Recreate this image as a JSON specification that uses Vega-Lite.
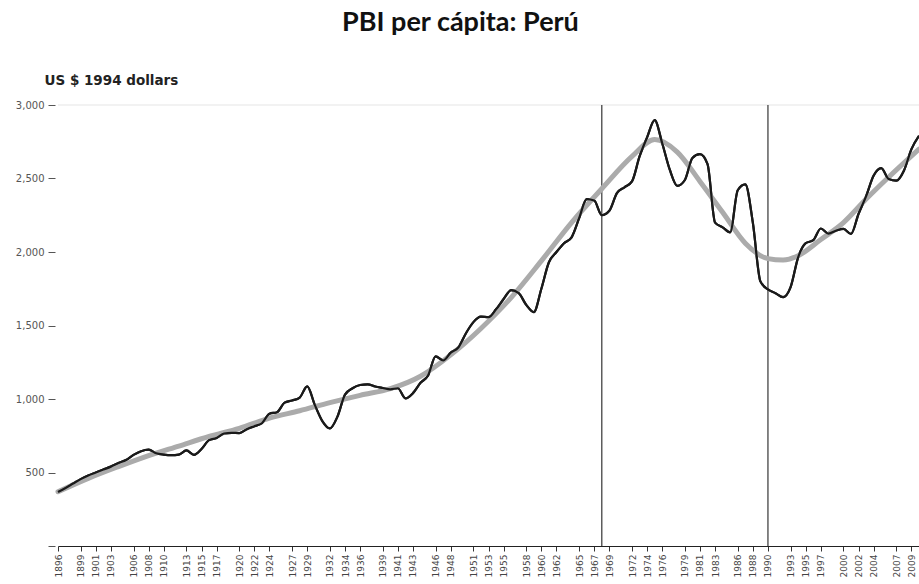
{
  "$schema": "https://vega.github.io/schema/vega-lite/v6.json",
  "autosize": "none",
  "width": 861,
  "height": 441,
  "padding": {"left": 58, "top": 105, "right": 0, "bottom": 38},
  "background": "white",
  "title": {
    "text": "PBI per cápita: Perú",
    "font": "Lato",
    "fontSize": 27,
    "fontWeight": "bold",
    "color": "#111",
    "anchor": "start",
    "frame": "group",
    "dx": 284,
    "offset": 36
  },
  "config": {
    "view": {"stroke": null},
    "axisX": {
      "labelOverlap": false,
      "labelSeparation": 0,
      "labelAngle": -90,
      "labelFont": "DejaVu Sans",
      "labelFontSize": 9,
      "labelColor": "#444",
      "labelPadding": 3,
      "labelFlush": false,
      "domainColor": "#222",
      "domainWidth": 1,
      "tickColor": "#333",
      "tickSize": 5,
      "grid": false
    },
    "axisY": {
      "labelFont": "DejaVu Sans",
      "labelFontSize": 10,
      "labelColor": "#555",
      "labelPadding": 4,
      "domain": false,
      "offset": 3,
      "tickSize": 7,
      "tickColor": "#555",
      "grid": false
    }
  },
  "datasets": {
    "gdp": [
      {"year": 1896, "gdp": 367}, {"year": 1897, "gdp": 395}, {"year": 1898, "gdp": 425}, {"year": 1899, "gdp": 455},
      {"year": 1900, "gdp": 480}, {"year": 1901, "gdp": 500}, {"year": 1902, "gdp": 520}, {"year": 1903, "gdp": 540},
      {"year": 1904, "gdp": 565}, {"year": 1905, "gdp": 585}, {"year": 1906, "gdp": 620}, {"year": 1907, "gdp": 645},
      {"year": 1908, "gdp": 655}, {"year": 1909, "gdp": 631}, {"year": 1910, "gdp": 622}, {"year": 1911, "gdp": 618},
      {"year": 1912, "gdp": 622}, {"year": 1913, "gdp": 650}, {"year": 1914, "gdp": 620}, {"year": 1915, "gdp": 660},
      {"year": 1916, "gdp": 720}, {"year": 1917, "gdp": 735}, {"year": 1918, "gdp": 765}, {"year": 1919, "gdp": 770},
      {"year": 1920, "gdp": 768}, {"year": 1921, "gdp": 795}, {"year": 1922, "gdp": 815}, {"year": 1923, "gdp": 835},
      {"year": 1924, "gdp": 900}, {"year": 1925, "gdp": 910}, {"year": 1926, "gdp": 975}, {"year": 1927, "gdp": 990},
      {"year": 1928, "gdp": 1010}, {"year": 1929, "gdp": 1086}, {"year": 1930, "gdp": 960}, {"year": 1931, "gdp": 850},
      {"year": 1932, "gdp": 800}, {"year": 1933, "gdp": 880}, {"year": 1934, "gdp": 1030}, {"year": 1935, "gdp": 1073},
      {"year": 1936, "gdp": 1095}, {"year": 1937, "gdp": 1100}, {"year": 1938, "gdp": 1085}, {"year": 1939, "gdp": 1075},
      {"year": 1940, "gdp": 1066}, {"year": 1941, "gdp": 1073}, {"year": 1942, "gdp": 1004}, {"year": 1943, "gdp": 1040},
      {"year": 1944, "gdp": 1110}, {"year": 1945, "gdp": 1160}, {"year": 1946, "gdp": 1290}, {"year": 1947, "gdp": 1262},
      {"year": 1948, "gdp": 1315}, {"year": 1949, "gdp": 1350}, {"year": 1950, "gdp": 1446}, {"year": 1951, "gdp": 1523},
      {"year": 1952, "gdp": 1560}, {"year": 1953, "gdp": 1557}, {"year": 1954, "gdp": 1610}, {"year": 1955, "gdp": 1680},
      {"year": 1956, "gdp": 1740}, {"year": 1957, "gdp": 1720}, {"year": 1958, "gdp": 1640}, {"year": 1959, "gdp": 1591},
      {"year": 1960, "gdp": 1750}, {"year": 1961, "gdp": 1930}, {"year": 1962, "gdp": 2000}, {"year": 1963, "gdp": 2060},
      {"year": 1964, "gdp": 2100}, {"year": 1965, "gdp": 2230}, {"year": 1966, "gdp": 2360}, {"year": 1967, "gdp": 2350},
      {"year": 1968, "gdp": 2250}, {"year": 1969, "gdp": 2280}, {"year": 1970, "gdp": 2400}, {"year": 1971, "gdp": 2440},
      {"year": 1972, "gdp": 2480}, {"year": 1973, "gdp": 2650}, {"year": 1974, "gdp": 2780}, {"year": 1975, "gdp": 2897},
      {"year": 1976, "gdp": 2740}, {"year": 1977, "gdp": 2560}, {"year": 1978, "gdp": 2450}, {"year": 1979, "gdp": 2490},
      {"year": 1980, "gdp": 2640}, {"year": 1981, "gdp": 2666}, {"year": 1982, "gdp": 2598}, {"year": 1983, "gdp": 2200},
      {"year": 1984, "gdp": 2168}, {"year": 1985, "gdp": 2134}, {"year": 1986, "gdp": 2420}, {"year": 1987, "gdp": 2460},
      {"year": 1988, "gdp": 2200}, {"year": 1989, "gdp": 1800}, {"year": 1990, "gdp": 1745}, {"year": 1991, "gdp": 1720},
      {"year": 1992, "gdp": 1693}, {"year": 1993, "gdp": 1761}, {"year": 1994, "gdp": 1964}, {"year": 1995, "gdp": 2060},
      {"year": 1996, "gdp": 2080}, {"year": 1997, "gdp": 2160}, {"year": 1998, "gdp": 2125}, {"year": 1999, "gdp": 2145},
      {"year": 2000, "gdp": 2157}, {"year": 2001, "gdp": 2123}, {"year": 2002, "gdp": 2260}, {"year": 2003, "gdp": 2380},
      {"year": 2004, "gdp": 2520}, {"year": 2005, "gdp": 2570}, {"year": 2006, "gdp": 2496}, {"year": 2007, "gdp": 2485},
      {"year": 2008, "gdp": 2553}, {"year": 2009, "gdp": 2700}, {"year": 2010, "gdp": 2790}
    ],
    "trend": [
      {"year": 1896, "trend": 369}, {"year": 1900, "trend": 460}, {"year": 1904, "trend": 540}, {"year": 1908, "trend": 615},
      {"year": 1912, "trend": 680}, {"year": 1916, "trend": 745}, {"year": 1920, "trend": 800}, {"year": 1924, "trend": 870},
      {"year": 1928, "trend": 920}, {"year": 1932, "trend": 975}, {"year": 1936, "trend": 1025}, {"year": 1940, "trend": 1070},
      {"year": 1944, "trend": 1155}, {"year": 1948, "trend": 1300}, {"year": 1952, "trend": 1480}, {"year": 1956, "trend": 1690},
      {"year": 1960, "trend": 1940}, {"year": 1964, "trend": 2200}, {"year": 1968, "trend": 2430}, {"year": 1972, "trend": 2650},
      {"year": 1975, "trend": 2765}, {"year": 1978, "trend": 2680}, {"year": 1981, "trend": 2480}, {"year": 1984, "trend": 2270},
      {"year": 1987, "trend": 2060}, {"year": 1990, "trend": 1955}, {"year": 1992, "trend": 1945}, {"year": 1994, "trend": 1975},
      {"year": 1997, "trend": 2085}, {"year": 2000, "trend": 2200}, {"year": 2003, "trend": 2360}, {"year": 2006, "trend": 2510},
      {"year": 2010, "trend": 2700}
    ],
    "events": [{"year": 1968}, {"year": 1990}],
    "grid": [{"gdp": 3000}]
  },
  "layer": [
    {
      "data": {"name": "gdp"},
      "mark": {"type": "line", "color": "#1a1a1a", "strokeWidth": 2.2, "interpolate": "monotone"},
      "encoding": {
        "x": {
          "field": "year", "type": "quantitative",
          "scale": {"domain": [1896, 2010], "nice": false, "zero": false},
          "axis": {
            "title": null,
            "values": [1896, 1899, 1901, 1903, 1906, 1908, 1910, 1913, 1915, 1917, 1920, 1922, 1924, 1927, 1929, 1932, 1934, 1936, 1939, 1941, 1943, 1946, 1948, 1951, 1953, 1955, 1958, 1960, 1962, 1965, 1967, 1969, 1972, 1974, 1976, 1979, 1981, 1983, 1986, 1988, 1990, 1993, 1995, 1997, 2000, 2002, 2004, 2007, 2009],
            "tickCount": 200,
            "format": "d",
            "labelOverlap": false
          }
        },
        "y": {
          "field": "gdp", "type": "quantitative",
          "scale": {"domain": [0, 3000], "nice": false},
          "axis": {
            "title": "US $ 1994 dollars",
            "titleAngle": 0,
            "titleAlign": "left",
            "titleBaseline": "alphabetic",
            "titleX": -11,
            "titleY": -21,
            "titleFont": "DejaVu Sans",
            "titleFontSize": 13.5,
            "titleFontWeight": "bold",
            "titleColor": "#222",
            "values": [0, 500, 1000, 1500, 2000, 2500, 3000],
            "tickCount": 20,
            "labelExpr": "datum.value == 0 ? '' : format(datum.value, ',')"
          }
        }
      }
    },
    {
      "data": {"name": "grid"},
      "mark": {"type": "rule", "color": "#e6e6e6", "strokeWidth": 1.2},
      "encoding": {
        "y": {"field": "gdp", "type": "quantitative"}
      }
    },
    {
      "data": {"name": "events"},
      "mark": {"type": "rule", "color": "#444", "strokeWidth": 1.3},
      "encoding": {
        "x": {"field": "year", "type": "quantitative"}
      }
    },
    {
      "data": {"name": "trend"},
      "mark": {"type": "line", "color": "#ababab", "strokeWidth": 5, "interpolate": "monotone", "strokeCap": "round"},
      "encoding": {
        "x": {"field": "year", "type": "quantitative"},
        "y": {"field": "trend", "type": "quantitative"}
      }
    },
    {
      "data": {"name": "gdp"},
      "mark": {"type": "line", "color": "#1a1a1a", "strokeWidth": 2.2, "interpolate": "monotone"},
      "encoding": {
        "x": {"field": "year", "type": "quantitative"},
        "y": {"field": "gdp", "type": "quantitative"}
      }
    }
  ]
}
